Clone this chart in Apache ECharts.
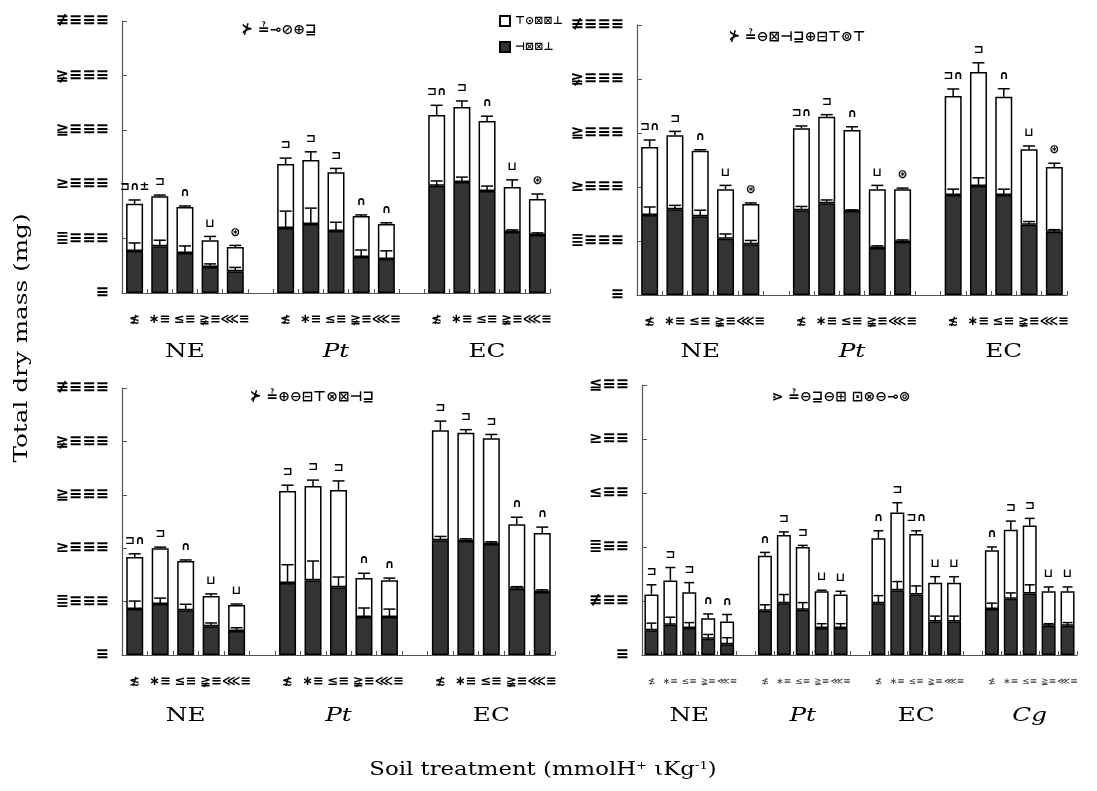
<!DOCTYPE html>
<html>
<head>
<meta charset="utf-8">
<script src="https://cdn.jsdelivr.net/npm/echarts@6/dist/echarts.min.js"></script>
<style>
  html, body { margin: 0; padding: 0; background: #fff; }
  #chart { width: 1097px; height: 791px; }
</style>
</head>
<body>
<div id="chart"></div>
<script>
// treatment groups and the dose labels under each bar
const groupsTop = ['NE', 'Pt', 'EC'];
const groupsP4 = ['NE', 'Pt', 'EC', 'Cg'];
const doses = ['≴', '∗≡', '≤≡', '≩≡', '⋘≡'];

const shootName = '⊤⊙⊠⊠⊥';
const rootName = '⊣⊠⊠⊥';

const titles = ['⊁ ≟⊸⊘⊕⊒', '⊁ ≟⊖⊠⊣⊒⊕⊟⊤⊚⊤', '⊁ ≟⊕⊖⊟⊤⊗⊠⊣⊒', '⋗ ≟⊖⊒⊖⊞ ⊡⊗⊖⊸⊚'];

const yLabelsBig = { 0: '≡', 100: '≣≡≡≡', 200: '≥≡≡≡', 300: '≧≡≡≡', 400: '≩≡≡≡', 500: '≢≡≡≡' };
const yLabelsSmall = { 0: '≡', 50: '≢≡≡', 100: '≣≡≡', 150: '≤≡≡', 200: '≥≡≡', 250: '≦≡≡' };

// panel 1 (top left)
const p1Total = [164, 178, 158, 97, 84.5, 237, 244.5, 222, 141.5, 127, 327, 342, 316, 195, 173];
const p1TotalErr = [7, 2, 2, 7, 3, 11, 15, 7, 2, 2, 18, 11, 9, 13, 9];
const p1Root = [77, 86, 73.5, 48, 40, 119.5, 127, 114, 66, 62.5, 197, 204, 187.5, 112, 106.5];
const p1RootErr = [15, 11, 13, 5.5, 7, 31, 29, 16, 13, 15, 9, 9, 9, 4, 4];
const p1Letters = ['⊐∩±', '⊐', '∩', '⊔', '⊛', '⊐', '⊐', '⊐', '∩', '∩', '⊐∩', '⊐', '∩', '⊔', '⊛'];

// panel 2 (top right)
const p2Total = [274, 296, 267, 196, 168.5, 309, 330, 305.5, 196, 196, 368.5, 413, 367, 270, 237];
const p2TotalErr = [13, 7, 2, 7, 2, 4, 4, 6, 7, 2, 13, 17, 15, 6, 7];
const p2Root = [148, 159, 146, 104, 94, 157, 170, 155.5, 87, 98, 185, 202, 185, 130, 117];
const p2RootErr = [15, 7, 11, 9, 7, 7, 6, 2, 4, 4, 11, 15, 11, 6, 4];
const p2Letters = ['⊐∩', '⊐', '∩', '⊔', '⊛', '⊐∩', '⊐', '∩', '⊔', '⊛', '⊐∩', '⊐', '∩', '⊔', '⊛'];

// panel 3 (bottom left)
const p3Total = [183.5, 200, 176, 110.5, 93.5, 307, 316.5, 309, 144, 140, 421, 416, 406, 245, 228.5];
const p3TotalErr = [6, 2, 2, 4, 2, 11, 11, 17, 9, 4, 17, 6, 7, 13, 11];
const p3Root = [86, 95.5, 84, 54, 45, 135, 140, 127, 71, 71, 215, 213.5, 208, 124, 118];
const p3RootErr = [15, 11, 11, 6, 6, 34, 36, 19, 17, 15, 7, 4, 4, 4, 4];
const p3Letters = ['⊐∩', '⊐', '∩', '⊔', '⊔', '⊐', '⊐', '⊐', '∩', '∩', '⊐', '⊐', '⊐', '∩', '∩'];

// panel 4 (bottom right)
const p4Total = [56, 69, 58, 34, 31, 92, 111, 100, 59, 56, 108, 132, 112, 67, 67, 97, 116, 120, 59, 59];
const p4TotalErr = [9, 12, 9, 4, 6.5, 3, 3, 1.5, 1, 3, 7, 9, 3, 5.5, 5.5, 3, 8, 6.5, 4, 4];
const p4Root = [23, 28, 25, 15, 10, 41, 48, 42, 25, 25, 48, 60, 56, 31, 31, 42.5, 52, 57, 27, 27];
const p4RootErr = [6.5, 7, 5, 4, 6, 5.5, 8, 6.5, 4, 4, 7, 8, 8, 5, 5, 5.5, 5.5, 8, 2, 3];
const p4Letters = ['⊐', '⊐', '⊐', '∩', '∩', '∩', '⊐', '⊐', '⊔', '⊔', '∩', '⊐', '⊐∩', '⊔', '⊔', '∩', '⊐', '⊐', '⊔', '⊔'];

const panels = [
  { grid: { left: 122, top: 21, width: 428, height: 272 }, groups: groupsTop, max: 500, step: 100, yl: yLabelsBig,
    total: p1Total, totalErr: p1TotalErr, root: p1Root, rootErr: p1RootErr, letters: p1Letters, barW: 17, cap: 6, small: false },
  { grid: { left: 637, top: 25, width: 430, height: 270 }, groups: groupsTop, max: 500, step: 100, yl: yLabelsBig,
    total: p2Total, totalErr: p2TotalErr, root: p2Root, rootErr: p2RootErr, letters: p2Letters, barW: 17, cap: 6, small: false },
  { grid: { left: 122, top: 388, width: 433, height: 267 }, groups: groupsTop, max: 500, step: 100, yl: yLabelsBig,
    total: p3Total, totalErr: p3TotalErr, root: p3Root, rootErr: p3RootErr, letters: p3Letters, barW: 17, cap: 6, small: false },
  { grid: { left: 642, top: 385, width: 435, height: 270 }, groups: groupsP4, max: 250, step: 50, yl: yLabelsSmall,
    total: p4Total, totalErr: p4TotalErr, root: p4Root, rootErr: p4RootErr, letters: p4Letters, barW: 14, cap: 5, small: true }
];

const chart = echarts.init(document.getElementById('chart'));

// spread 5 values per group over the category axis, leaving one empty slot between groups
function spread(arr, nGroups) {
  const out = [];
  for (let g = 0; g < nGroups; g++) {
    for (let k = 0; k < 5; k++) out.push(arr[g * 5 + k]);
    if (g < nGroups - 1) out.push('-');
  }
  return out;
}
function catIndex(i) { return Math.floor(i / 5) * 6 + (i % 5); }

function errSeries(p, idx, base, err, letters) {
  const data = base.map((v, i) => [catIndex(i), v, err[i]]);
  return {
    type: 'custom', xAxisIndex: idx, yAxisIndex: idx, z: 5,
    encode: { x: 0, y: 1 },
    data: data,
    renderItem: function (params, api) {
      const x = api.value(0), b = api.value(1), e = api.value(2);
      const p0 = api.coord([x, b]);
      const p1 = api.coord([x, b + e]);
      const kids = [
        { type: 'line', shape: { x1: p0[0], y1: p0[1], x2: p1[0], y2: p1[1] }, style: { stroke: '#000', lineWidth: 1.5 } },
        { type: 'line', shape: { x1: p1[0] - p.cap, y1: p1[1], x2: p1[0] + p.cap, y2: p1[1] }, style: { stroke: '#000', lineWidth: 1.5 } }
      ];
      if (letters) {
        kids.push({ type: 'text', x: p1[0], y: p1[1] - 7,
          style: { text: letters[params.dataIndex], align: 'center', verticalAlign: 'bottom',
            font: 'bold 12px "DejaVu Sans"', fill: '#000' } });
      }
      return { type: 'group', children: kids };
    }
  };
}

const grids = [], xAxes = [], yAxes = [], series = [];
panels.forEach((p, idx) => {
  const n = p.groups.length;
  const cats = [];
  for (let g = 0; g < n; g++) {
    doses.forEach(d => cats.push(d));
    if (g < n - 1) cats.push('');
  }
  grids.push(p.grid);
  xAxes.push({
    type: 'category', gridIndex: idx, data: cats,
    axisLine: { lineStyle: { color: '#555', width: 1.2 } },
    axisTick: { show: true, inside: true, length: 4, interval: 0, lineStyle: { color: '#555' } },
    axisLabel: { interval: 0, margin: p.small ? 22 : 20, color: p.small ? '#333' : '#000',
      fontFamily: 'DejaVu Sans', fontWeight: p.small ? 'normal' : 'bold', fontSize: p.small ? 9 : 13 }
  });
  yAxes.push({
    type: 'value', gridIndex: idx, min: 0, max: p.max, interval: p.step,
    splitLine: { show: false },
    axisLine: { show: true, lineStyle: { color: '#555', width: 1.2 } },
    axisTick: { show: true, inside: true, length: 5, lineStyle: { color: '#555' } },
    axisLabel: { margin: 13, color: '#000', fontFamily: 'DejaVu Sans', fontWeight: 'bold', fontSize: 16,
      formatter: v => p.yl[v] !== undefined ? p.yl[v] : '' }
  });
  const shoot = p.total.map((t, i) => +(t - p.root[i]).toFixed(2));
  series.push({
    name: rootName, type: 'bar', xAxisIndex: idx, yAxisIndex: idx, stack: 's' + idx,
    barWidth: p.barW, data: spread(p.root, n),
    itemStyle: { color: '#333', borderColor: '#000', borderWidth: 1.5 }
  });
  series.push({
    name: shootName, type: 'bar', xAxisIndex: idx, yAxisIndex: idx, stack: 's' + idx,
    barWidth: p.barW, data: spread(shoot, n),
    itemStyle: { color: '#fff', borderColor: '#000', borderWidth: 1.5 }
  });
  series.push(errSeries(p, idx, p.root, p.rootErr, null));
  series.push(errSeries(p, idx, p.total, p.totalErr, p.letters));
});

chart.setOption({
  animation: false,
  backgroundColor: '#fff',
  grid: grids,
  xAxis: xAxes,
  yAxis: yAxes,
  series: series,
  legend: {
    data: [shootName, rootName], orient: 'vertical', left: 494, top: 10, itemGap: 14,
    itemWidth: 10, itemHeight: 10, icon: 'rect',
    textStyle: { fontFamily: 'DejaVu Sans', fontWeight: 'bold', fontSize: 11, color: '#000' }
  }
});

// text placed from the axis scales: panel titles, group names, axis titles
const serif = '"DejaVu Serif"';
const graphics = [];
const titleX = [279, 797, 312, 841];
const titleY = [30, 37, 397, 397];
panels.forEach((p, idx) => {
  graphics.push({
    type: 'text', x: titleX[idx], y: titleY[idx],
    style: { text: titles[idx], align: 'center', verticalAlign: 'middle',
      font: 'italic bold 14px "DejaVu Sans"', fill: '#000' }
  });
  const gy = idx < 2 ? 352 : 716;
  p.groups.forEach((g, gi) => {
    const cx = chart.convertToPixel({ xAxisIndex: idx }, gi * 6 + 2);
    const it = (g === 'Pt' || g === 'Cg');
    graphics.push({
      type: 'text', x: cx, y: gy, scaleX: 1.3,
      style: { text: g, align: 'center', verticalAlign: 'middle',
        font: (it ? 'italic ' : '') + '19px ' + serif, fill: '#000' }
    });
  });
});
graphics.push({
  type: 'text', x: 22, y: 338, rotation: Math.PI / 2, scaleX: 1.3,
  style: { text: 'Total dry mass (mg)', align: 'center', verticalAlign: 'middle', font: '19px ' + serif, fill: '#000' }
});
graphics.push({
  type: 'text', x: 543, y: 770, scaleX: 1.2,
  style: {
    text: '{n|Soil treatment (mmolH}{s|+}{n| ιKg}{s|-1}{n|)}', align: 'center', verticalAlign: 'middle',
    rich: {
      n: { font: '19px ' + serif, fill: '#000', verticalAlign: 'bottom' },
      s: { font: '11px ' + serif, fill: '#000', verticalAlign: 'top', padding: [0, 0, 8, 0] }
    }
  }
});
chart.setOption({ graphic: graphics });
</script>
</body>
</html>
